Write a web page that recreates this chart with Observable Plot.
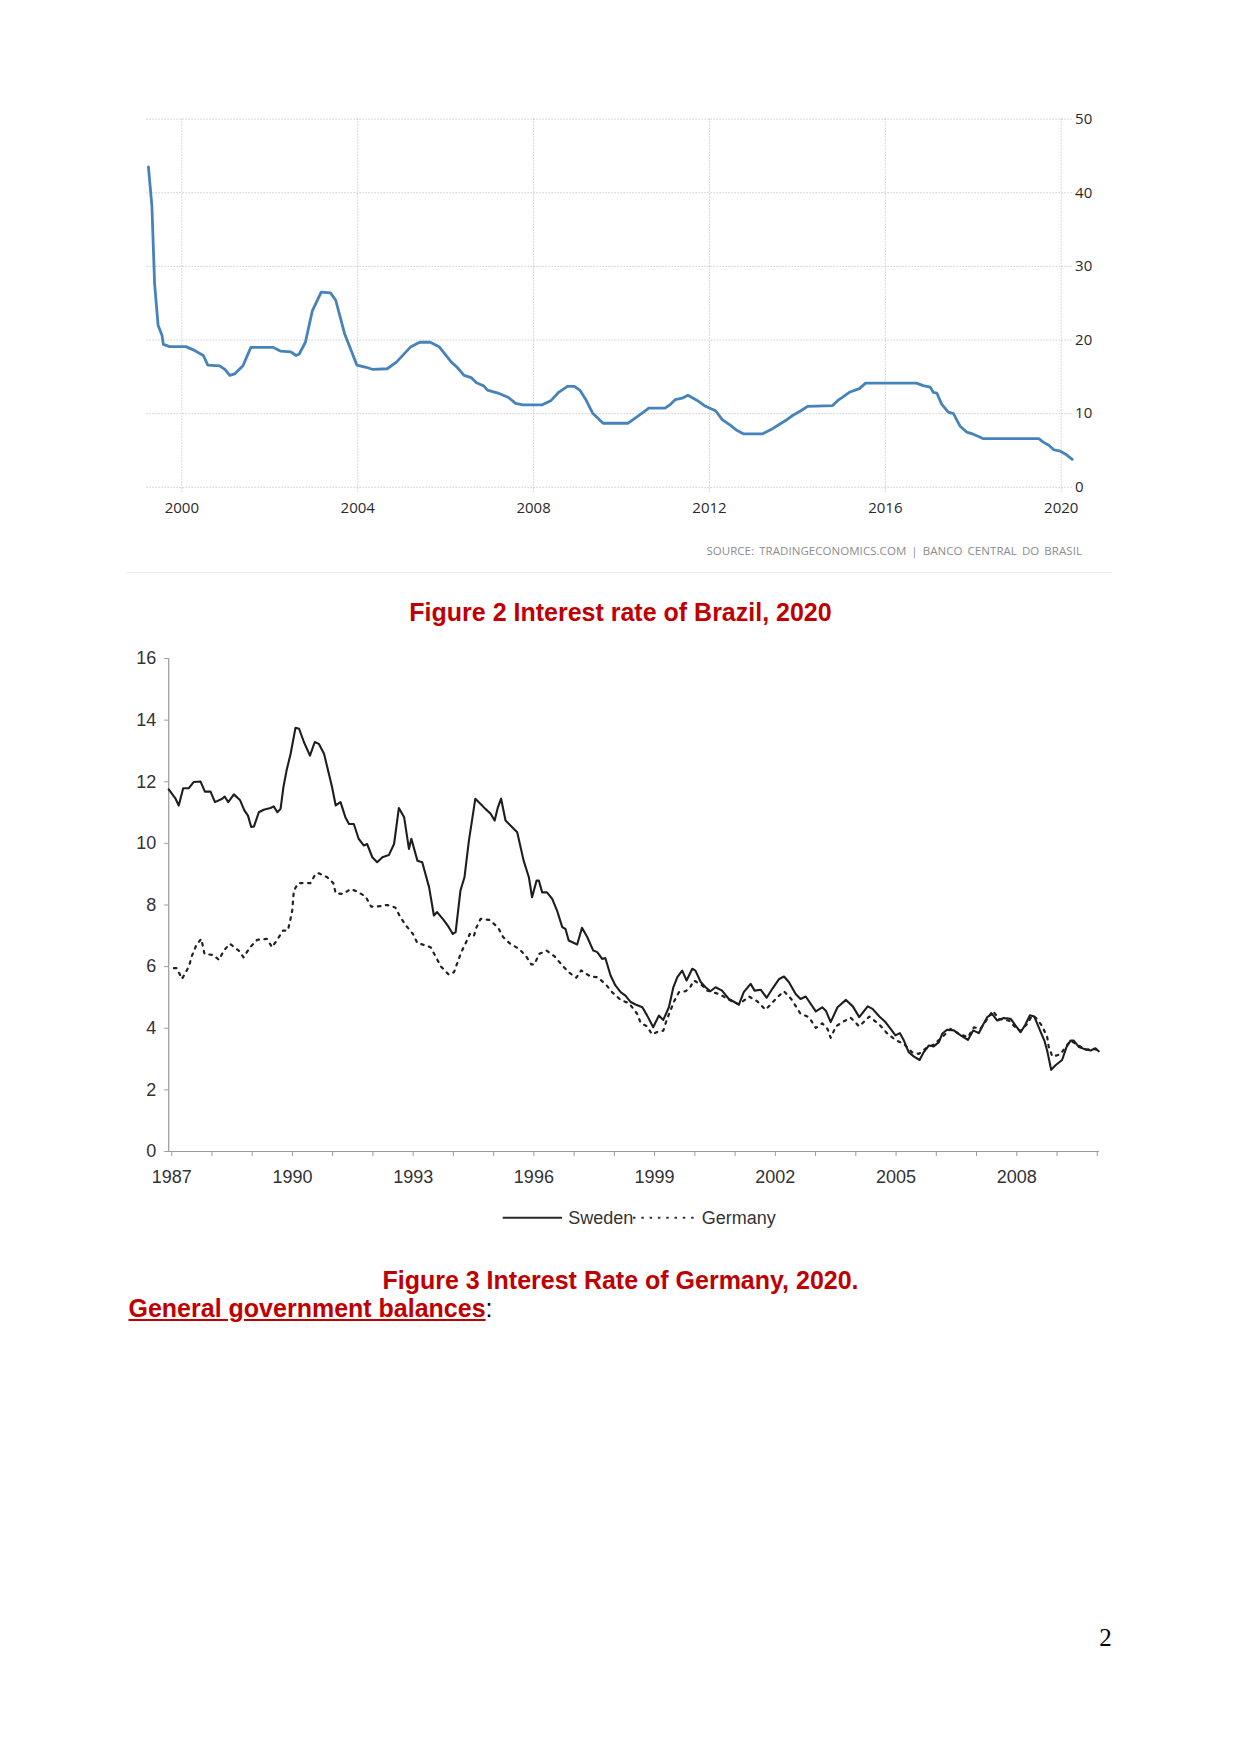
<!DOCTYPE html>
<html>
<head>
<meta charset="utf-8">
<script src="https://cdn.jsdelivr.net/npm/d3@7"></script>
<script src="https://cdn.jsdelivr.net/npm/@observablehq/plot@0.6"></script>
<style>
  html, body { margin: 0; padding: 0; background: #fff; }
  body { width: 1241px; height: 1754px; position: relative; overflow: hidden; }
  .abs { position: absolute; white-space: nowrap; }
  .cap { font-family: "Liberation Sans", Arial, sans-serif; font-weight: bold; font-size: 25px; line-height: 25px; color: #c00000; }
  #chart1, #chart2 { position: absolute; left: 0; }
  #chart1 { top: 0; }
  #chart2 { top: 630px; }
</style>
</head>
<body>
<div id="chart1"></div>
<div class="abs" id="source" style="left:0; width:1082px; top:544px; text-align:right; font-family:'Open Sans',sans-serif; font-size:11.5px; line-height:14px; color:#8c8c8c; letter-spacing:0.05px; word-spacing:2px;">SOURCE: TRADINGECONOMICS.COM | BANCO CENTRAL DO BRASIL</div>
<div class="abs" style="left:126px; top:572px; width:986px; height:1px; background:#ececec;"></div>
<div class="abs cap" style="left:0; width:1241px; top:599.5px; text-align:center;">Figure 2 Interest rate of Brazil, 2020</div>
<div id="chart2"></div>
<div class="abs" id="legend" style="left:480px; top:1195px;"></div>
<div class="abs cap" style="left:0; width:1241px; top:1267.5px; text-align:center;">Figure 3 Interest Rate of Germany, 2020.</div>
<div class="abs cap" style="left:128.5px; top:1296.3px;"><span style="text-decoration:underline;">General government balances</span><span style="color:#000; font-weight:normal;">:</span></div>
<div class="abs" style="left:1090px; width:31px; text-align:center; top:1625.4px; font-family:'Liberation Serif',serif; font-size:25px; line-height:25px; color:#000;">2</div>

<script>
// ---------- Figure 2: Brazil interest rate ----------
const brazilYears = [1999.24,1999.32,1999.38,1999.46,1999.55,1999.58,1999.72,2000.09,2000.25,2000.49,2000.59,2000.86,2000.98,2001.09,2001.2,2001.39,2001.57,2002.08,2002.24,2002.48,2002.6,2002.67,2002.81,2002.97,2003.17,2003.38,2003.5,2003.7,2003.98,2004.19,2004.35,2004.67,2004.88,2005.21,2005.41,2005.65,2005.85,2006.13,2006.26,2006.42,2006.58,2006.7,2006.86,2006.95,2007.19,2007.43,2007.59,2007.76,2008.2,2008.4,2008.57,2008.77,2008.93,2009.05,2009.18,2009.34,2009.58,2010.15,2010.31,2010.5,2010.62,2010.99,2011.12,2011.22,2011.38,2011.51,2011.72,2011.91,2012.14,2012.29,2012.48,2012.63,2012.78,2013.2,2013.39,2013.55,2013.74,2013.89,2014.08,2014.23,2014.8,2014.92,2015.03,2015.18,2015.41,2015.55,2016.71,2016.86,2017.02,2017.09,2017.17,2017.28,2017.43,2017.55,2017.62,2017.7,2017.85,2017.96,2018.12,2018.23,2019.49,2019.6,2019.72,2019.83,2019.98,2020.1,2020.25];
const brazilRates = [43.5,38.1,27.7,22.0,20.6,19.4,19.1,19.1,18.7,17.9,16.6,16.5,16.0,15.2,15.4,16.5,19.0,19.0,18.5,18.4,17.9,18.1,19.7,24.0,26.5,26.4,25.4,20.9,16.6,16.3,16.0,16.1,17.0,19.1,19.7,19.7,19.1,17.0,16.3,15.2,14.9,14.2,13.8,13.2,12.8,12.2,11.4,11.2,11.2,11.8,12.9,13.7,13.7,13.2,12.0,10.1,8.7,8.7,9.4,10.2,10.75,10.75,11.3,11.9,12.1,12.5,11.8,11.0,10.4,9.2,8.4,7.7,7.25,7.25,7.8,8.4,9.1,9.75,10.4,11.0,11.1,11.8,12.25,12.9,13.4,14.15,14.15,13.8,13.6,12.9,12.8,11.3,10.2,10.0,9.2,8.3,7.5,7.3,6.9,6.6,6.6,6.1,5.7,5.1,4.9,4.5,3.8];
const brazilXTicks = [2000, 2004, 2008, 2012, 2016, 2020];
const brazilYTicks = [0, 10, 20, 30, 40, 50];

// ---------- Figure 3: Sweden / Germany ----------
const swedenYears = [1987.0,1987.17,1987.25,1987.36,1987.5,1987.62,1987.79,1987.9,1988.04,1988.15,1988.33,1988.39,1988.48,1988.62,1988.77,1988.88,1988.97,1989.05,1989.12,1989.24,1989.36,1989.53,1989.61,1989.7,1989.78,1989.85,1989.93,1990.03,1990.15,1990.24,1990.36,1990.51,1990.63,1990.73,1990.86,1990.98,1991.06,1991.15,1991.27,1991.39,1991.48,1991.6,1991.72,1991.85,1991.93,1992.06,1992.18,1992.31,1992.47,1992.6,1992.72,1992.85,1992.97,1993.03,1993.18,1993.3,1993.47,1993.59,1993.67,1993.84,1993.96,1994.06,1994.13,1994.25,1994.35,1994.46,1994.62,1994.75,1994.87,1995.0,1995.1,1995.18,1995.26,1995.37,1995.53,1995.66,1995.82,1995.95,1996.03,1996.14,1996.2,1996.28,1996.4,1996.53,1996.65,1996.78,1996.86,1996.94,1997.15,1997.27,1997.4,1997.55,1997.65,1997.77,1997.85,1997.98,1998.1,1998.23,1998.35,1998.48,1998.6,1998.77,1998.89,1999.04,1999.18,1999.29,1999.43,1999.54,1999.64,1999.76,1999.87,2000.01,2000.09,2000.22,2000.34,2000.46,2000.59,2000.75,2000.92,2001.17,2001.29,2001.46,2001.56,2001.71,2001.86,2002.0,2002.17,2002.29,2002.41,2002.58,2002.7,2002.83,2003.08,2003.24,2003.33,2003.45,2003.62,2003.83,2004.0,2004.16,2004.37,2004.49,2004.66,2004.81,2004.94,2005.06,2005.17,2005.27,2005.39,2005.52,2005.66,2005.76,2005.89,2006.01,2006.14,2006.22,2006.34,2006.51,2006.68,2006.86,2006.99,2007.13,2007.24,2007.34,2007.46,2007.59,2007.75,2007.92,2008.04,2008.17,2008.29,2008.4,2008.51,2008.62,2008.76,2008.83,2008.93,2009.03,2009.2,2009.31,2009.41,2009.49,2009.62,2009.74,2009.91,2010.03,2010.11];
const swedenRates = [11.75,11.45,11.23,11.79,11.79,11.99,12.01,11.68,11.68,11.34,11.45,11.52,11.34,11.59,11.41,11.07,10.9,10.53,10.55,11.01,11.09,11.15,11.2,11.01,11.12,11.82,12.37,12.91,13.75,13.72,13.29,12.85,13.29,13.23,12.91,12.26,11.82,11.23,11.34,10.85,10.63,10.63,10.15,9.93,9.98,9.55,9.39,9.55,9.62,9.98,11.15,10.85,9.82,10.15,9.44,9.39,8.58,7.66,7.77,7.5,7.28,7.06,7.12,8.47,8.9,10.09,11.45,11.28,11.12,10.96,10.74,11.17,11.45,10.74,10.53,10.36,9.44,8.9,8.25,8.79,8.79,8.41,8.41,8.2,7.82,7.28,7.22,6.85,6.72,7.26,6.96,6.52,6.47,6.25,6.28,5.71,5.39,5.17,5.06,4.85,4.77,4.68,4.41,4.03,4.41,4.27,4.68,5.33,5.66,5.87,5.55,5.93,5.87,5.5,5.33,5.2,5.33,5.22,4.95,4.77,5.17,5.44,5.22,5.25,4.99,5.28,5.6,5.68,5.5,5.11,4.95,5.03,4.55,4.68,4.57,4.2,4.68,4.92,4.71,4.36,4.71,4.63,4.38,4.2,3.98,3.77,3.84,3.6,3.22,3.08,2.97,3.22,3.44,3.41,3.55,3.82,3.95,3.93,3.77,3.62,3.93,3.84,4.12,4.36,4.47,4.25,4.33,4.31,4.09,3.87,4.12,4.42,4.38,4.03,3.6,3.27,2.65,2.79,2.97,3.39,3.6,3.6,3.39,3.33,3.28,3.35,3.25];
const germanyYears = [1987.13,1987.2,1987.33,1987.5,1987.58,1987.69,1987.81,1987.89,1988.1,1988.25,1988.37,1988.52,1988.74,1988.86,1989.01,1989.2,1989.44,1989.57,1989.71,1989.84,1989.96,1990.02,1990.07,1990.11,1990.22,1990.44,1990.52,1990.65,1990.73,1990.94,1991.09,1991.15,1991.34,1991.52,1991.68,1991.89,1992.03,1992.18,1992.43,1992.63,1992.76,1992.88,1993.07,1993.18,1993.3,1993.51,1993.63,1993.77,1993.96,1994.09,1994.17,1994.27,1994.38,1994.48,1994.58,1994.65,1994.75,1994.96,1995.18,1995.31,1995.47,1995.7,1995.87,1996.01,1996.09,1996.2,1996.39,1996.59,1996.78,1996.94,1997.13,1997.25,1997.48,1997.65,1997.85,1998.02,1998.23,1998.44,1998.64,1998.73,1998.89,1999.01,1999.14,1999.29,1999.37,1999.45,1999.57,1999.68,1999.84,1999.95,2000.05,2000.26,2000.38,2000.46,2000.71,2000.96,2001.17,2001.42,2001.62,2001.83,2001.96,2002.11,2002.29,2002.47,2002.6,2002.7,2002.91,2003.08,2003.24,2003.37,2003.45,2003.58,2003.74,2003.95,2004.16,2004.41,2004.66,2004.85,2005.06,2005.27,2005.47,2005.64,2005.85,2006.01,2006.22,2006.43,2006.64,2006.86,2007.01,2007.17,2007.34,2007.48,2007.63,2007.88,2008.04,2008.17,2008.33,2008.46,2008.58,2008.71,2008.83,2008.87,2008.96,2009.15,2009.29,2009.41,2009.58,2009.78,2009.99,2010.11];
const germanyRates = [5.95,5.95,5.6,6.0,6.36,6.71,6.9,6.41,6.38,6.22,6.52,6.74,6.52,6.3,6.61,6.87,6.9,6.63,6.9,7.17,7.17,7.5,7.82,8.47,8.71,8.71,8.71,9.01,9.03,8.9,8.71,8.38,8.36,8.52,8.44,8.28,7.95,7.95,8.0,7.92,7.6,7.36,7.06,6.76,6.72,6.63,6.33,6.0,5.74,5.82,6.11,6.47,6.76,7.06,6.98,7.28,7.55,7.52,7.28,6.96,6.76,6.58,6.36,6.07,6.07,6.41,6.52,6.33,6.04,5.82,5.64,5.88,5.68,5.66,5.44,5.17,4.92,4.81,4.47,4.17,4.06,3.8,3.88,3.92,4.25,4.52,4.9,5.17,5.2,5.31,5.55,5.39,5.22,5.2,5.09,4.9,4.77,5.03,4.88,4.6,4.77,4.99,5.2,4.95,4.68,4.47,4.36,4.01,4.16,3.98,3.69,4.06,4.2,4.34,4.06,4.38,4.12,3.84,3.62,3.49,3.22,3.17,3.38,3.47,3.71,3.98,3.82,3.71,4.03,3.98,4.3,4.57,4.3,4.25,4.03,3.91,4.14,4.42,4.3,4.06,3.71,3.39,3.08,3.15,3.39,3.6,3.47,3.3,3.33,3.28];
const euroYearTicks = d3.range(1987, 2011);
const euroLabelYears = [1987, 1990, 1993, 1996, 1999, 2002, 2005, 2008];
const euroYTicks = [0, 2, 4, 6, 8, 10, 12, 14, 16];
const seriesNames = ["Sweden", "Germany"];

const brazil = brazilYears.map((x, i) => ({x, y: brazilRates[i]}));
const sweden = swedenYears.map((x, i) => ({x, y: swedenRates[i]}));
const germany = germanyYears.map((x, i) => ({x, y: germanyRates[i]}));

const gridStyle = {stroke: "#b4b4b4", strokeDasharray: "1,2", strokeWidth: 1};

const chart1 = Plot.plot({
  width: 1241, height: 530,
  marginTop: 118.6, marginBottom: 43.2, marginLeft: 146.6, marginRight: 168.4,
  style: {fontFamily: "'Open Sans', sans-serif", fontSize: "15px", color: "#2a2a2a", background: "transparent"},
  x: {type: "linear", domain: [1999.21, 2020.27]},
  y: {type: "linear", domain: [0, 50]},
  marks: [
    Plot.ruleY(brazilYTicks, gridStyle),
    Plot.ruleX(brazilXTicks, {...gridStyle, insetBottom: -6}),
    Plot.axisX({ticks: brazilXTicks, tickSize: 0, tickPadding: 15, tickFormat: d => String(d), label: null}),
    Plot.axisY({anchor: "right", ticks: brazilYTicks, tickSize: 0, tickPadding: 2, textAnchor: "start", label: null}),
    Plot.line(brazil, {x: "x", y: "y", stroke: "#4683ba", strokeWidth: 2.8, strokeLinejoin: "round"})
  ]
});
document.getElementById("chart1").appendChild(chart1);

const chart2 = Plot.plot({
  width: 1241, height: 600,
  marginTop: 28, marginBottom: 79, marginLeft: 168.2, marginRight: 142,
  style: {fontFamily: "'Liberation Sans', Arial, sans-serif", fontSize: "18px", color: "#333", background: "transparent"},
  x: {type: "linear", domain: [1987, 2010.13]},
  y: {type: "linear", domain: [0, 16]},
  marks: [
    Plot.axisX({ticks: euroYearTicks, tickSize: 5, tickPadding: 14, stroke: "#9a9a9a", color: "#333", dx: 3,
      tickFormat: d => euroLabelYears.includes(d) ? String(d) : "", label: null}),
    Plot.axisY({ticks: euroYTicks, tickSize: 4, tickPadding: 8.5, stroke: "#9a9a9a", color: "#333", label: null}),
    Plot.ruleY([0], {stroke: "#9a9a9a", strokeWidth: 1.2}),
    Plot.ruleX([1987], {stroke: "#9a9a9a", strokeWidth: 1.2}),
    Plot.line(germany, {x: "x", y: "y", stroke: "#222", strokeWidth: 2.2, strokeDasharray: "2.5,5.5"}),
    Plot.line(sweden, {x: "x", y: "y", stroke: "#1e1e1e", strokeWidth: 2.1, strokeLinejoin: "round"})
  ]
});
document.getElementById("chart2").appendChild(chart2);

// legend
const lg = d3.select("#legend").append("svg").attr("width", 320).attr("height", 45)
  .style("font-family", "'Liberation Sans', Arial, sans-serif").style("font-size", "18px");
lg.append("line").attr("x1", 22.7).attr("x2", 82).attr("y1", 22.7).attr("y2", 22.7)
  .attr("stroke", "#2a2a2a").attr("stroke-width", 2);
lg.append("text").attr("x", 88.3).attr("y", 29.2).attr("fill", "#333").text(seriesNames[0]);
lg.append("line").attr("x1", 153).attr("x2", 218).attr("y1", 22.7).attr("y2", 22.7)
  .attr("stroke", "#333").attr("stroke-width", 2).attr("stroke-dasharray", "2.5,5.8");
lg.append("text").attr("x", 221.7).attr("y", 29.2).attr("fill", "#333").text(seriesNames[1]);
</script>
</body>
</html>
